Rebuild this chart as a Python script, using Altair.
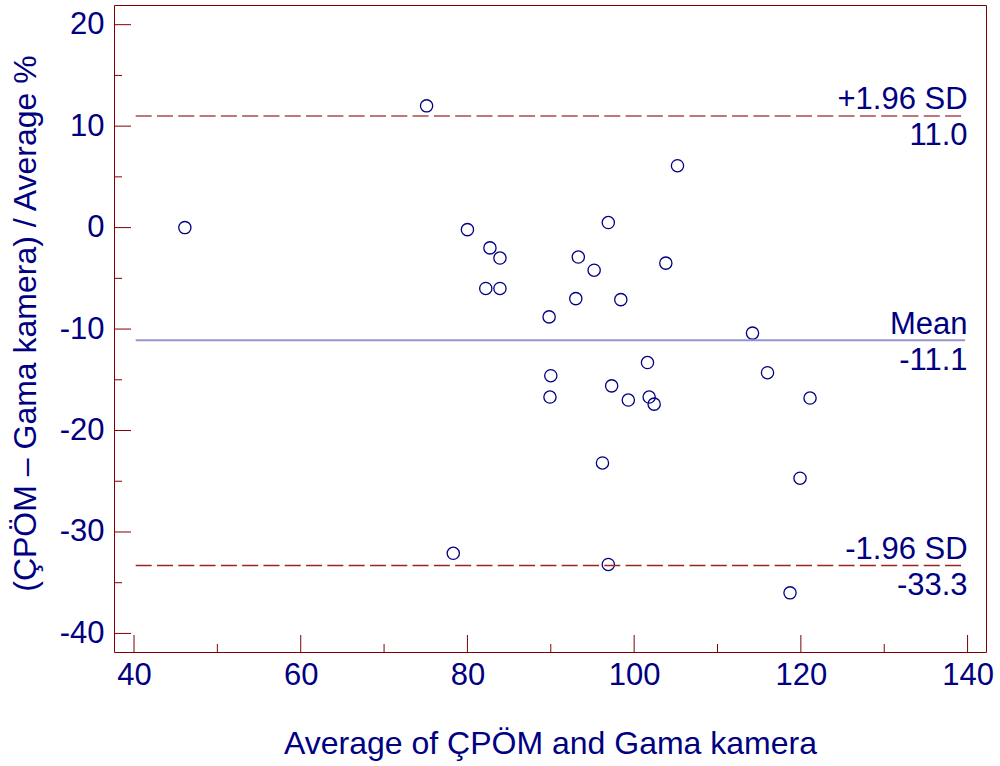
import altair as alt
import pandas as pd

# ---- data ----
avg = [46.1, 75.1, 80.0, 82.7, 83.9, 82.2, 83.9, 89.8, 93.0, 93.3,
       95.2, 96.9, 98.4, 103.8, 105.2, 114.2, 90.0, 89.9, 97.3, 99.3,
       101.6, 101.8, 102.4, 116.0, 121.1, 96.2, 119.9, 78.3, 96.9, 118.7]
diff = [0.0, 12.0, -0.2, -2.0, -3.0, -6.0, -6.0, -8.8, -7.0, -2.9,
        -4.2, 0.5, -7.1, -3.5, 6.1, -10.4, -14.6, -16.7, -15.6, -17.0,
        -13.3, -16.7, -17.4, -14.3, -16.8, -23.2, -24.7, -32.1, -33.2, -36.0]

ref_names = ["+1.96 SD", "Mean", "-1.96 SD"]
ref_values = [11.0, -11.1, -33.3]
ref_texts = ["11.0", "-11.1", "-33.3"]

x_major = [40, 60, 80, 100, 120, 140]
x_minor = [50, 70, 90, 110, 130]
y_major = [-40, -30, -20, -10, 0, 10, 20]
y_minor = [-35, -25, -15, -5, 5, 15]

x_title = "Average of ÇPÖM and Gama kamera"
y_title = "(ÇPÖM – Gama kamera) / Average %"

# ---- style ----
NAVY = "#000080"
RED = "#800000"
FONT = "Liberation Sans"
W, H = 872, 647

xs = alt.Scale(domain=[37.60, 142.21], nice=False, zero=False)
ys = alt.Scale(domain=[-41.83, 21.94], nice=False, zero=False)

pts = pd.DataFrame({"avg": avg, "diff": diff})
refs = pd.DataFrame({"name": ref_names, "value": ref_values, "text": ref_texts})

x_axis = alt.Axis(values=x_major, labelExpr="'' + datum.value", title=x_title,
                  titleFont=FONT, titleFontSize=32, titleColor=NAVY, titleFontWeight="normal",
                  titleX=436, titleY=101, titleBaseline="alphabetic", titleAlign="center",
                  labelFont=FONT, labelFontSize=31, labelColor=NAVY, labelPadding=8.5,
                  labelFlush=False, labelOverlap=False,
                  ticks=False, domain=False, grid=False)
y_axis = alt.Axis(values=y_major, labelExpr="'' + datum.value", title=y_title,
                  titleFont=FONT, titleFontSize=32, titleColor=NAVY, titleFontWeight="normal",
                  titleX=-79, titleY=318, titleAngle=270, titleBaseline="alphabetic",
                  titleAlign="center",
                  labelFont=FONT, labelFontSize=31, labelColor=NAVY, labelPadding=10,
                  labelFlush=False, labelOverlap=False,
                  ticks=False, domain=False, grid=False)

points = alt.Chart(pts).mark_point(
    shape="circle", filled=False, size=150, color=NAVY, stroke=NAVY,
    strokeWidth=1.3, opacity=1
).encode(
    x=alt.X("avg:Q", scale=xs, axis=x_axis),
    y=alt.Y("diff:Q", scale=ys, axis=y_axis),
)

def ref_rule(name, color, width, dash=None):
    kw = dict(color=color, strokeWidth=width)
    if dash:
        kw["strokeDash"] = dash
    return alt.Chart(refs).transform_filter(alt.datum.name == name).mark_rule(**kw).encode(
        x=alt.datum(40.2), x2=alt.datum(139.7), y=alt.Y("value:Q"))

upper = ref_rule("+1.96 SD", "#BF7777", 2, [16, 5.3])
mean = ref_rule("Mean", "#9494CC", 2)
lower = ref_rule("-1.96 SD", "#9A2525", 1.5, [16, 5.3])

top_lbl = alt.Chart(refs).mark_text(
    align="right", baseline="alphabetic", dy=-6.5, font=FONT, fontSize=31, color=NAVY
).encode(x=alt.datum(140), y=alt.Y("value:Q"), text="name:N")
bot_lbl = alt.Chart(refs).mark_text(
    align="right", baseline="alphabetic", dy=29.5, font=FONT, fontSize=31, color=NAVY
).encode(x=alt.datum(140), y=alt.Y("value:Q"), text="text:N")

def xticks(vals, length):
    return alt.Chart(pd.DataFrame({"t": vals})).mark_rule(color=RED, strokeWidth=1).encode(
        x=alt.X("t:Q"), y=alt.value(H), y2=alt.value(H - length))

def yticks(vals, length):
    return alt.Chart(pd.DataFrame({"t": vals})).mark_rule(color=RED, strokeWidth=1).encode(
        y=alt.Y("t:Q"), x=alt.value(0), x2=alt.value(length))

chart = alt.layer(
    points, upper, mean, lower, top_lbl, bot_lbl,
    xticks(x_major, 17), xticks(x_minor, 8), yticks(y_major, 17), yticks(y_minor, 8),
).properties(
    width=W, height=H,
    padding={"left": 114, "top": 5, "right": 14, "bottom": 114},
    autosize=alt.AutoSizeParams(type="none"),
    background="white",
).configure_view(stroke=RED, strokeWidth=1)

chart.save("out.html", embed_options={"renderer": "svg", "actions": False})
